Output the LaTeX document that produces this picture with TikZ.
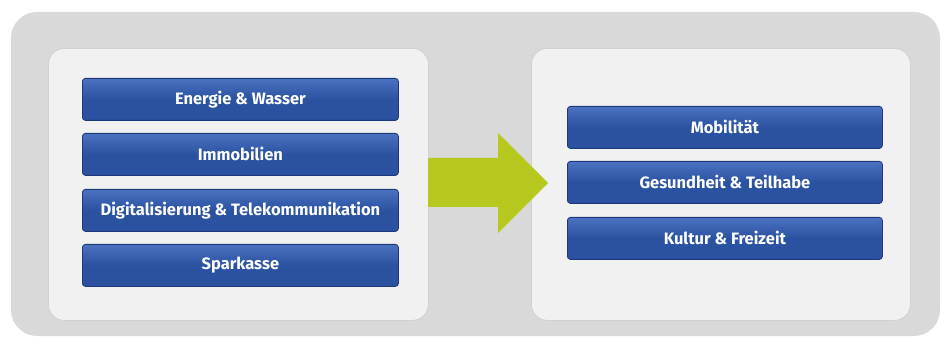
\documentclass[tikz,border=0pt]{standalone}
\usepackage{fontspec}
\setmainfont{Fira Sans}
\definecolor{outergray}{HTML}{D9D9D9}
\definecolor{panelgray}{HTML}{F1F1F1}
\definecolor{boxblue}{HTML}{2A52A0}
\definecolor{boxtop}{HTML}{4A72C0}
\definecolor{boxedge}{HTML}{1C3A7A}
\definecolor{arrowgreen}{HTML}{B7C91F}
\tikzset{
  panelbox/.style={fill=panelgray, draw=black!18, line width=0.8pt, rounded corners=16pt,
    anchor=north west, inner sep=0pt},
  catbox/.style={draw=boxedge, line width=0.8pt, rounded corners=3pt,
    top color=boxtop, bottom color=boxblue, middle color=boxblue, shading angle=0,
    text=white, font=\fontsize{16.5}{18}\selectfont\bfseries, inner sep=0pt,
    anchor=north west, minimum height=42pt},
}
\begin{document}
\begin{tikzpicture}[x=1pt,y=-1pt]
\useasboundingbox (0,0) rectangle (944,344);
\fill[outergray, rounded corners=26pt] (11,12) rectangle (940,336);
\node[panelbox, minimum width=380pt, minimum height=272pt] (lp) at (48,48) {};
\node[panelbox, minimum width=379pt, minimum height=272pt] (rp) at (531,48) {};
% arrow
\fill[arrowgreen] (428,158) -- (498,158) -- (498,133) -- (548,183) -- (498,233) -- (498,207) -- (428,207) -- cycle;
% left boxes
\node[catbox, minimum width=316pt] (b1) at (82,78) {Energie \& Wasser};
\node[catbox, minimum width=316pt] (b2) at (82,133) {Immobilien};
\node[catbox, minimum width=316pt] (b3) at (82,189) {Digitalisierung \& Telekommunikation};
\node[catbox, minimum width=316pt] (b4) at (82,244) {Sparkasse};
% right boxes
\node[catbox, minimum width=315pt] (c1) at (567,106) {Mobilität};
\node[catbox, minimum width=315pt] (c2) at (567,161) {Gesundheit \& Teilhabe};
\node[catbox, minimum width=315pt] (c3) at (567,217) {Kultur \& Freizeit};
\end{tikzpicture}
\end{document}
